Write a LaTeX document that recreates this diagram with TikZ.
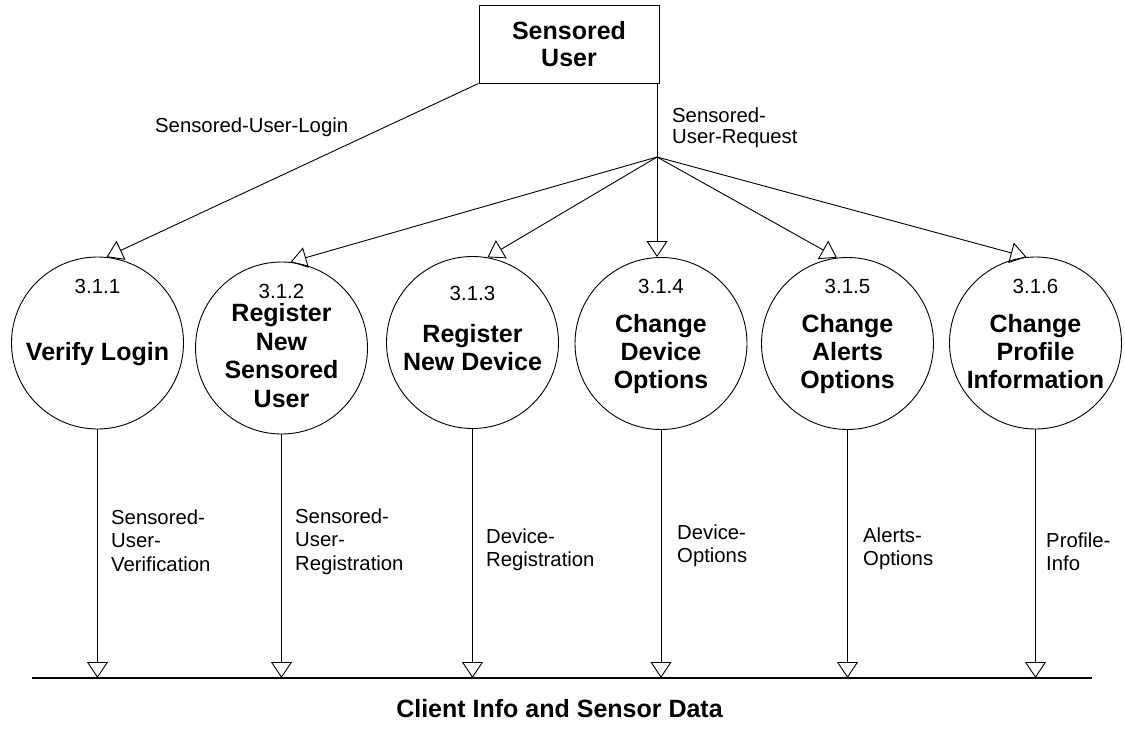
\documentclass[tikz,border=0pt]{standalone}
\usepackage{fontspec}
\setmainfont{Liberation Sans}
\usetikzlibrary{arrows.meta}
\tikzset{
  proc/.style={draw, circle, minimum size=172pt, inner sep=0pt, line width=0.9pt},
  flow/.style={draw, line width=0.9pt, -{Triangle[open, width=21pt, length=16pt, line width=0.9pt]}},
  lbl/.style={font=\fontsize{20.3}{23.5}\selectfont, align=left, inner sep=0pt, anchor=north west},
  num/.style={font=\fontsize{20.5}{24}\selectfont, inner sep=0pt, anchor=base},
  ttl/.style={font=\bfseries\fontsize{25}{28.5}\selectfont, align=center, inner sep=0pt, anchor=north},
}
\begin{document}
\begin{tikzpicture}[x=1pt, y=-1pt]
\useasboundingbox (0,0) rectangle (1125,736);
% external entity
\node[draw, line width=0.9pt, minimum width=180pt, minimum height=78pt, inner sep=0pt,
      align=center, font=\bfseries\fontsize{25}{27}\selectfont] (user) at (569,44) {Sensored\\User};
% processes
\node[proc] (p1) at (97.5,343) {};
\node[proc] (p2) at (281.5,348) {};
\node[proc] (p3) at (472.5,342.5) {};
\node[proc] (p4) at (661,343.5) {};
\node[proc] (p5) at (847.5,343.5) {};
\node[proc] (p6) at (1035.5,343) {};
% numbers
\node[num] (n1) at (97.5,293) {3.1.1};
\node[num] (n2) at (281.5,298) {3.1.2};
\node[num] (n3) at (472.5,300) {3.1.3};
\node[num] (n4) at (661,293) {3.1.4};
\node[num] (n5) at (847.5,293) {3.1.5};
\node[num] (n6) at (1035.5,293) {3.1.6};
% titles
\node[ttl] (t1) at (97.5,342.5) {Verify Login};
\node[ttl] (t2) at (281.5,303.5) {Register\\New\\Sensored\\User};
\node[ttl] (t3) at (472.5,323.8) {Register\\New Device};
\node[ttl, font=\bfseries\fontsize{25}{28.3}\selectfont] (t4) at (661,313.8) {Change\\Device\\Options};
\node[ttl, font=\bfseries\fontsize{25}{28.3}\selectfont] (t5) at (847.5,313.8) {Change\\Alerts\\Options};
\node[ttl, font=\bfseries\fontsize{25}{28.3}\selectfont] (t6) at (1035.5,313.8) {Change\\Profile\\Information};
% junction
\coordinate (j) at (657,157);
\draw[flow] (user.south -| j) -- (p4.north -| j);
\draw[flow] (j) -- (p2.84);
\draw[flow] (j) -- (p3.80);
\draw[flow] (j) -- (p5.97);
\draw[flow] (j) -- (p6.96);
\draw[flow] (user.south west) -- (p1.84);
% top labels
\node[font=\fontsize{20.3}{21}\selectfont, inner sep=0pt, anchor=base west] (llogin) at (155,132) {Sensored-User-Login};
\node[font=\fontsize{20.3}{21}\selectfont, inner sep=0pt, anchor=north west, align=left] (lreq) at (672,107.2) {Sensored-\\User-Request};
% data store line
\coordinate (bl) at (32,678);
\coordinate (br) at (1092,678);
\draw[line width=1.3pt] (bl) -- (br);
\node[font=\bfseries\fontsize{25}{28}\selectfont, inner sep=0pt, anchor=base] (store) at (559.5,717) {Client Info and Sensor Data};
% outputs
\draw[flow] (p1.south) -- (p1.south |- bl);
\draw[flow] (p2.south) -- (p2.south |- bl);
\draw[flow] (p3.south) -- (p3.south |- bl);
\draw[flow] (p4.south) -- (p4.south |- bl);
\draw[flow] (p5.south) -- (p5.south |- bl);
\draw[flow] (p6.south) -- (p6.south |- bl);
% output labels
\node[lbl] (l1) at (111,509.4) {Sensored-\\User-\\Verification};
\node[lbl] (l2) at (295,508.4) {Sensored-\\User-\\Registration};
\node[lbl] (l3) at (486,528.4) {Device-\\Registration};
\node[lbl] (l4) at (677,524.4) {Device-\\Options};
\node[lbl] (l5) at (863,527.4) {Alerts-\\Options};
\node[lbl] (l6) at (1046,532.4) {Profile-\\Info};
\end{tikzpicture}
\end{document}
